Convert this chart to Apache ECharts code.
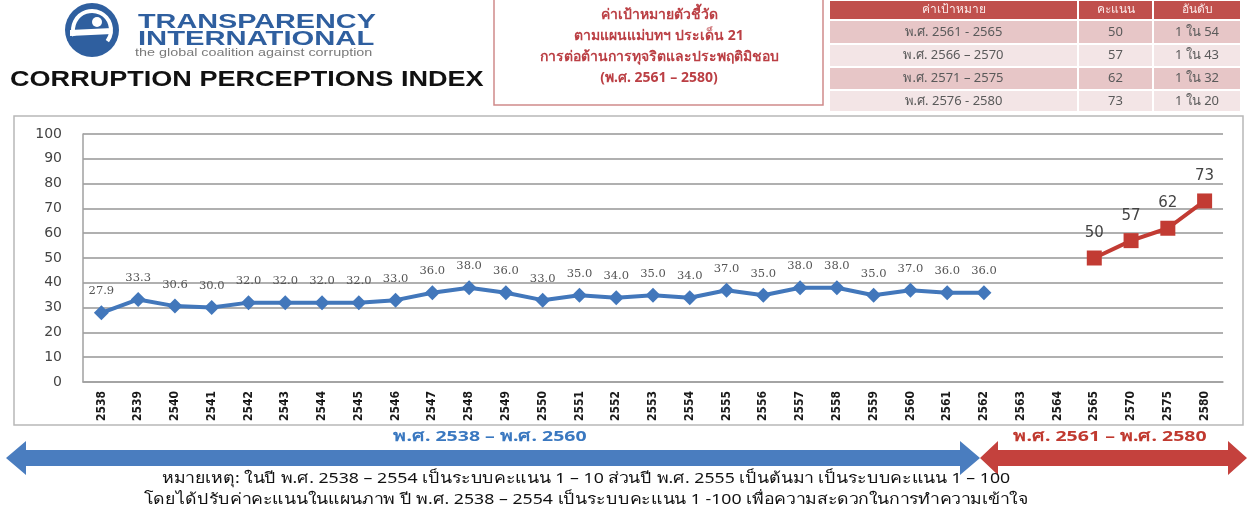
<!DOCTYPE html>
<html><head><meta charset="utf-8">
<script src="https://cdn.jsdelivr.net/npm/echarts@6/dist/echarts.min.js"></script>
<style>html,body{margin:0;padding:0;background:#fff}#c{width:1249px;height:509px}</style>
</head><body><div id="c"></div>
<script>
// ---- data ----
const categories = ['2538','2539','2540','2541','2542','2543','2544','2545','2546','2547','2548','2549','2550','2551','2552','2553','2554','2555','2556','2557','2558','2559','2560','2561','2562','2563','2564','2565','2570','2575','2580'];
const actualYears = ['2538','2539','2540','2541','2542','2543','2544','2545','2546','2547','2548','2549','2550','2551','2552','2553','2554','2555','2556','2557','2558','2559','2560','2561','2562'];
const actualScores = [27.9,33.3,30.6,30.0,32.0,32.0,32.0,32.0,33.0,36.0,38.0,36.0,33.0,35.0,34.0,35.0,34.0,37.0,35.0,38.0,38.0,35.0,37.0,36.0,36.0];
const targetYears = ['2565','2570','2575','2580'];
const targetScores = [50,57,62,73];
const yMin = 0, yMax = 100, yStep = 10;

const tableHeader = ['ค่าเป้าหมาย','คะแนน','อันดับ'];
const tablePeriods = ['พ.ศ. 2561 - 2565','พ.ศ. 2566 – 2570','พ.ศ. 2571 – 2575','พ.ศ. 2576 - 2580'];
const tableScores = ['50','57','62','73'];
const tableRanks = ['1 ใน 54','1 ใน 43','1 ใน 32','1 ใน 20'];
const titleLines = ['ค่าเป้าหมายตัวชี้วัด','ตามแผนแม่บทฯ ประเด็น 21','การต่อต้านการทุจริตและประพฤติมิชอบ','(พ.ศ. 2561 – 2580)'];
const periodLabels = ['พ.ศ. 2538 – พ.ศ. 2560','พ.ศ. 2561 – พ.ศ. 2580'];
const noteLines = ['หมายเหตุ: ในปี พ.ศ. 2538 – 2554 เป็นระบบคะแนน 1 – 10 ส่วนปี พ.ศ. 2555 เป็นต้นมา เป็นระบบคะแนน 1 – 100',
  'โดยได้ปรับค่าคะแนนในแผนภาพ ปี พ.ศ. 2538 – 2554 เป็นระบบคะแนน 1 -100 เพื่อความสะดวกในการทำความเข้าใจ'];
const orgName = ['TRANSPARENCY','INTERNATIONAL'];
const orgTagline = 'the global coalition against corruption';
const indexTitle = 'CORRUPTION PERCEPTIONS INDEX';

// ---- styles ----
const BLUE = '#4277bb', RED = '#c23b33', TI = '#2f5f9f';
const thai = '"Noto Sans", "DejaVu Sans", sans-serif';

const g = [];
// outer chart frame
g.push({type:'rect', shape:{x:14,y:116,width:1229,height:309}, style:{fill:'none', stroke:'#b8b8b8', lineWidth:1.5}, z:-1});

// logo
g.push({type:'circle', shape:{cx:92,cy:30,r:27}, style:{fill:TI}});
g.push({type:'arc', shape:{cx:92,cy:30,r:19,startAngle:Math.PI*0.9,endAngle:Math.PI*2.2}, style:{stroke:'#fff',lineWidth:4,fill:'none'}});
g.push({type:'circle', shape:{cx:97,cy:22,r:5}, style:{fill:'#fff'}});
g.push({type:'polygon', shape:{points:[[70,30],[112,28],[112,34],[70,36]]}, style:{fill:'#fff'}});
g.push({type:'text', x:138, y:12, scaleX:1.44, style:{text:orgName[0], font:'bold 20px "Liberation Sans", Arial, sans-serif', fill:TI}});
g.push({type:'text', x:138, y:29, scaleX:1.46, style:{text:orgName[1], font:'bold 20px "Liberation Sans", Arial, sans-serif', fill:TI}});
g.push({type:'text', x:135, y:47, scaleX:1.25, style:{text:orgTagline, font:'11.5px "Liberation Sans", Arial, sans-serif', fill:'#7a7a7a'}});
g.push({type:'text', x:10, y:69, scaleX:1.23, style:{text:indexTitle, font:'bold 22px "Liberation Sans", Arial, sans-serif', fill:'#111'}});

// title box
g.push({type:'rect', shape:{x:494,y:-2,width:329,height:107}, style:{fill:'#fff', stroke:'#d08a8a', lineWidth:1.5}});
titleLines.forEach((t,i)=>{
  g.push({type:'text', x:659, y:[15,36,57,78][i], style:{text:t, font:'bold 14px '+thai, fill:'#bb3f44', align:'center', verticalAlign:'middle'}});
});

// table
const colX = [829,1078,1153,1241];
const rowY = [0,20,44,67,90,112];
const rowFill = ['#c0504d','#e7c6c7','#f3e5e6','#e7c6c7','#f3e5e6'];
for (let r=0;r<5;r++){
  for (let c=0;c<3;c++){
    g.push({type:'rect', shape:{x:colX[c],y:rowY[r],width:colX[c+1]-colX[c],height:rowY[r+1]-rowY[r]}, style:{fill:rowFill[r], stroke:'#fff', lineWidth:2}});
    let txt = r===0 ? tableHeader[c] : [tablePeriods,tableScores,tableRanks][c][r-1];
    g.push({type:'text', x:(colX[c]+colX[c+1])/2, y:(rowY[r]+rowY[r+1])/2, style:{text:txt, font:(r===0?'12px ':'13px ')+thai, fill:r===0?'#fbeaea':'#5a5a5a', align:'center', verticalAlign:'middle'}});
  }
}

// bottom arrows
g.push({type:'polygon', shape:{points:[[6,458],[26,441],[26,450],[960,450],[960,441],[980,458],[960,475],[960,466],[26,466],[26,475]]}, style:{fill:'#4a7dbf'}});
g.push({type:'polygon', shape:{points:[[980,458],[998,441],[998,450],[1228,450],[1228,441],[1247,458],[1228,475],[1228,466],[998,466],[998,475]]}, style:{fill:'#c4413d'}});
g.push({type:'text', x:490, y:437, scaleX:1.3, style:{text:periodLabels[0], font:'bold 15px '+thai, fill:'#3a78c0', align:'center', verticalAlign:'middle'}});
g.push({type:'text', x:1110, y:437, scaleX:1.3, style:{text:periodLabels[1], font:'bold 15px '+thai, fill:'#c0392f', align:'center', verticalAlign:'middle'}});
noteLines.forEach((t,i)=>{
  g.push({type:'text', x:586, y:[479,500][i], scaleX:1.18, style:{text:t, font:'15px '+thai, fill:'#111', align:'center', verticalAlign:'middle'}});
});

const chart = echarts.init(document.getElementById('c'), null, {renderer:'canvas'});
chart.setOption({
  animation:false,
  backgroundColor:'#fff',
  grid:{left:83, right:26, top:134, bottom:127},
  xAxis:{type:'category', data:categories, boundaryGap:true,
    axisLine:{show:true, lineStyle:{color:'#a0a0a0', width:1.5}},
    axisTick:{show:false},
    axisLabel:{rotate:90, interval:0, margin:9, color:'#1a1a1a', fontSize:12, fontWeight:'bold', fontFamily:'"DejaVu Sans Condensed", "Liberation Sans Narrow", sans-serif'}},
  yAxis:{type:'value', min:yMin, max:yMax, interval:yStep,
    axisLine:{show:true, lineStyle:{color:'#a0a0a0', width:1.5}},
    axisTick:{show:false},
    splitLine:{lineStyle:{color:'#b0b0b0', width:2}},
    axisLabel:{color:'#444', fontSize:14, margin:21, fontFamily:'"DejaVu Sans", sans-serif'}},
  series:[
    {type:'line', data:actualYears.map((y,i)=>[categories.indexOf(y), actualScores[i]]),
     symbol:'diamond', symbolSize:15, lineStyle:{color:BLUE, width:4}, itemStyle:{color:BLUE},
     label:{show:true, position:'top', distance:8, color:'#555', fontSize:11.5, fontFamily:'"DejaVu Serif", serif', formatter:p=>p.value[1].toFixed(1)}},
    {type:'line', data:targetYears.map((y,i)=>[categories.indexOf(y), targetScores[i]]),
     symbol:'rect', symbolSize:15, lineStyle:{color:RED, width:4}, itemStyle:{color:RED},
     label:{show:true, position:'top', distance:10, color:'#444', fontSize:15, fontFamily:'"DejaVu Sans", sans-serif', formatter:p=>String(p.value[1])}}
  ],
  graphic:g
});
</script></body></html>
